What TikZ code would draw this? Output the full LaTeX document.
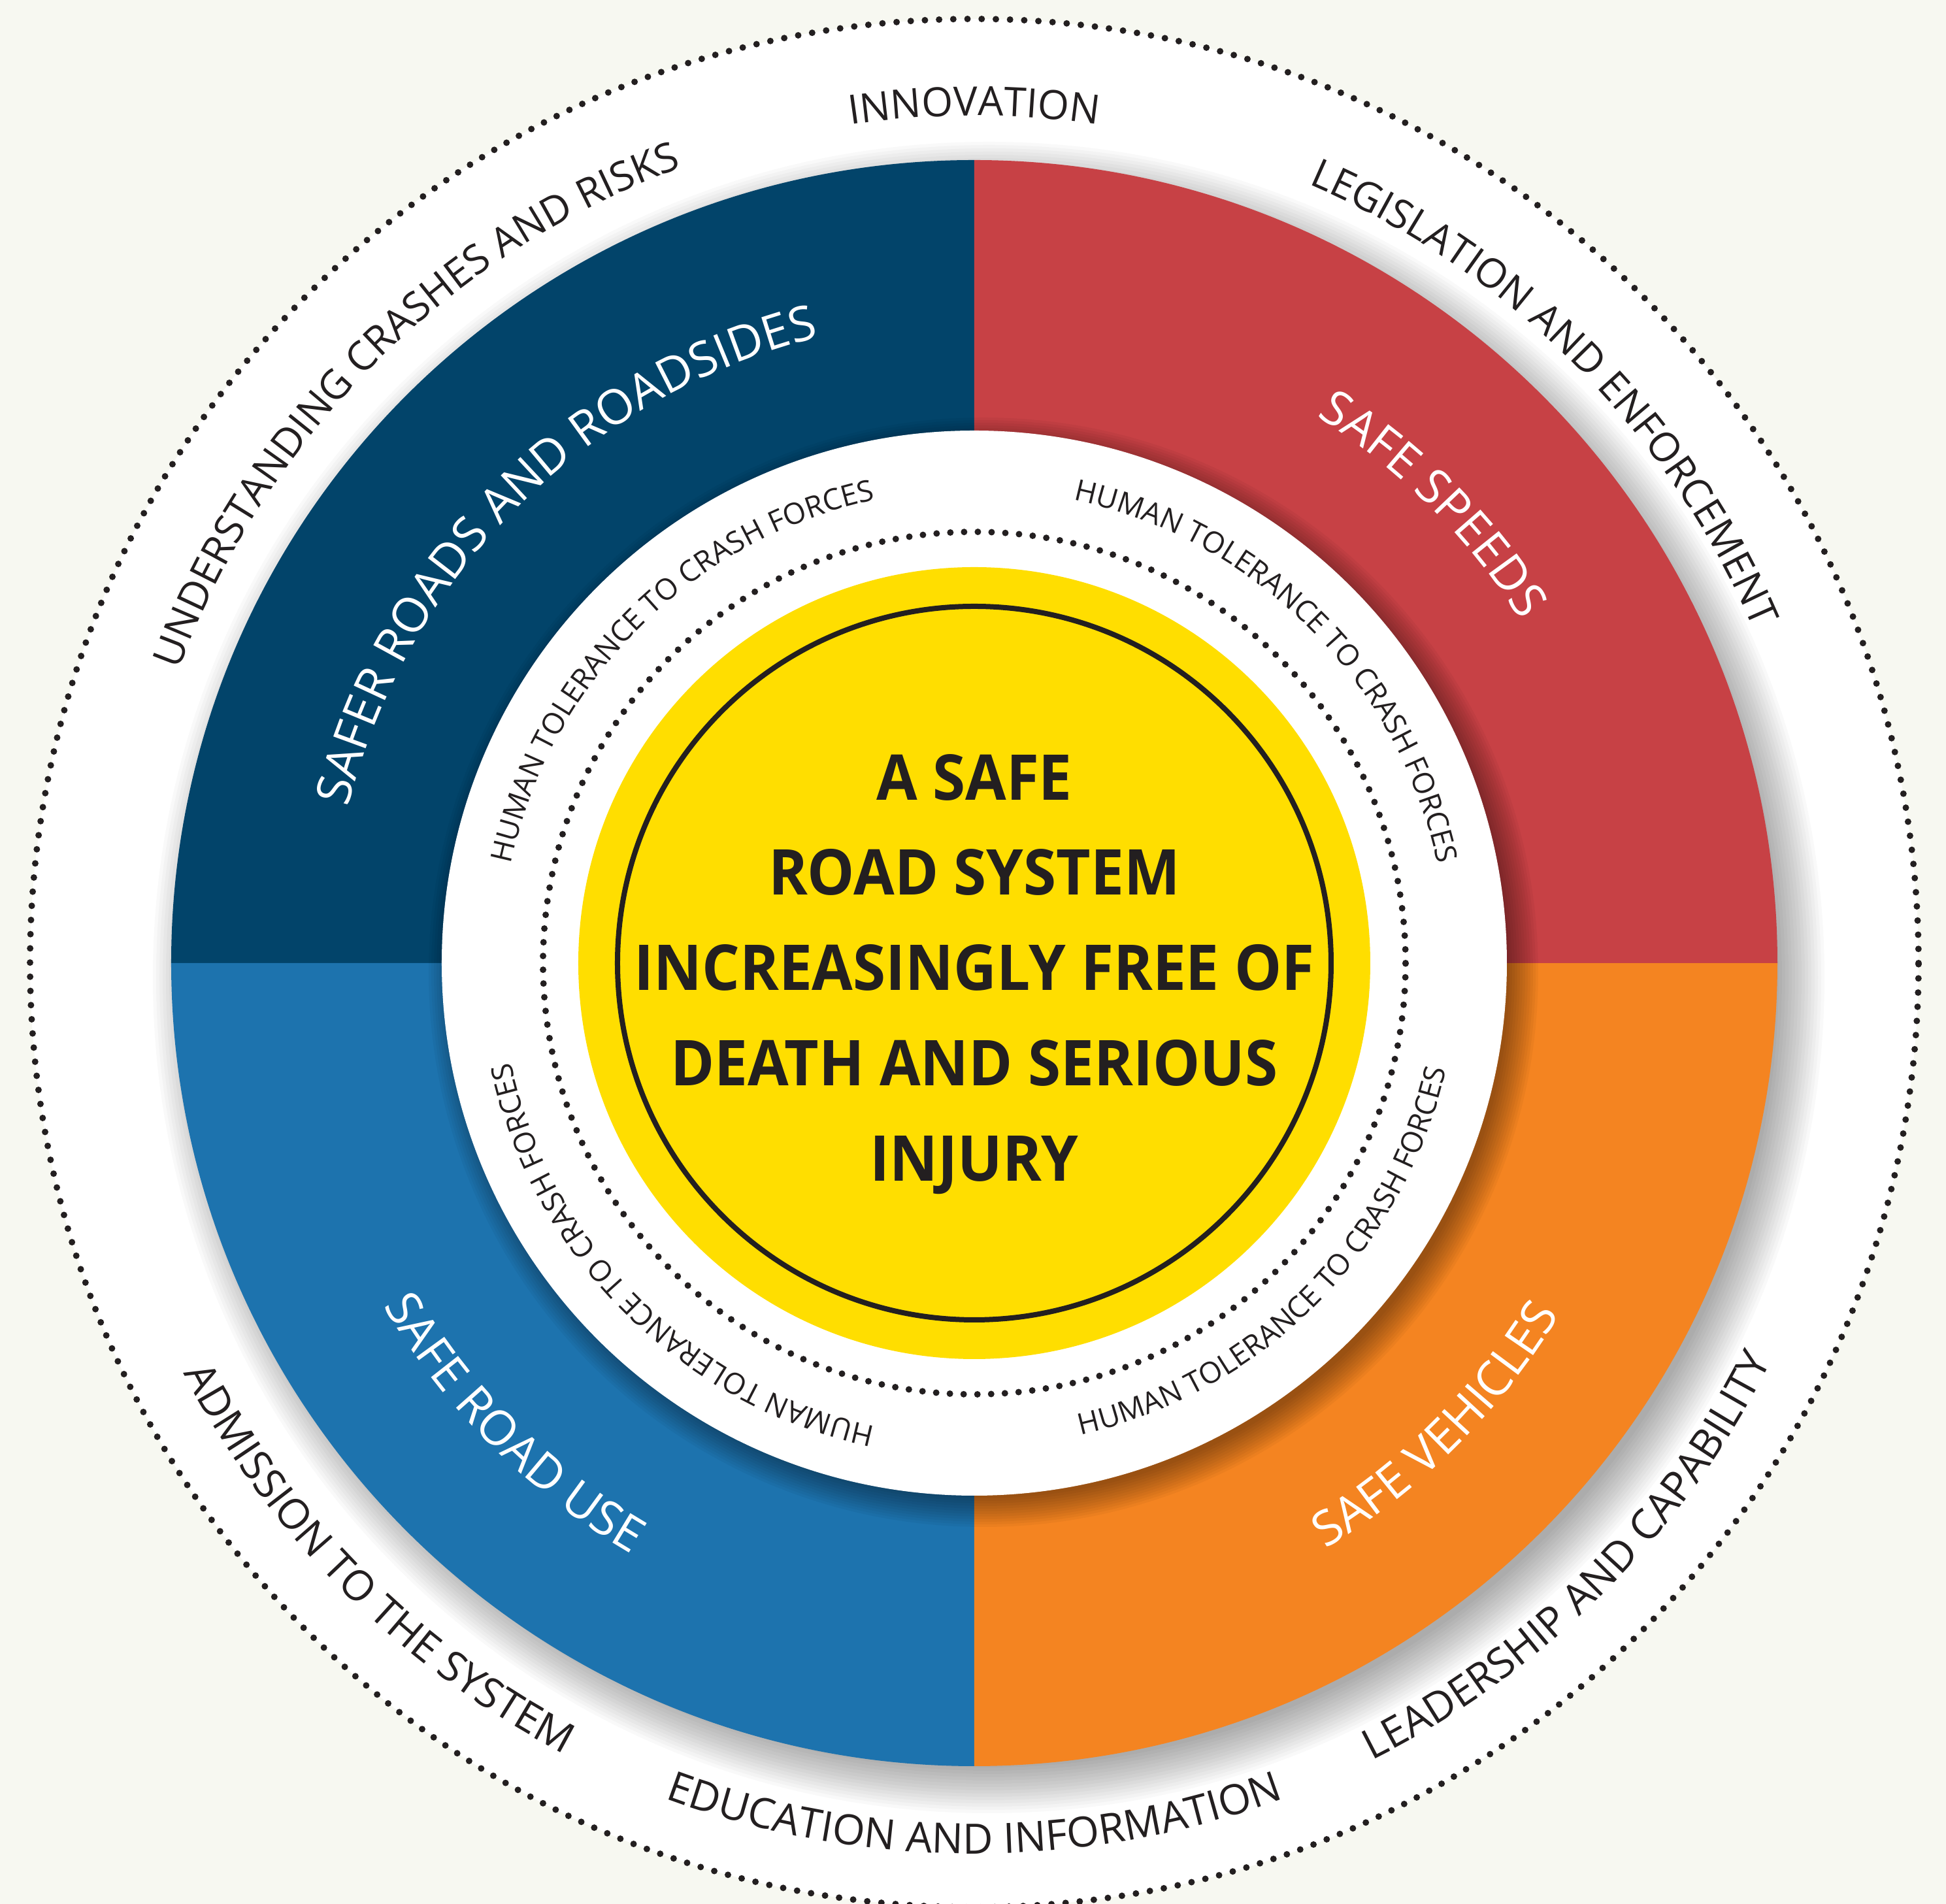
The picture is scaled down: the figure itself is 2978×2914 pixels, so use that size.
\documentclass[tikz,border=0pt]{standalone}
\usepackage{fontspec}
\setmainfont{Open Sans}
\newfontfamily\goalfont[FakeStretch=0.94]{Open Sans}
\usetikzlibrary{decorations.text}

\definecolor{paper}{HTML}{F7F8F1}
\definecolor{ink}{HTML}{231F20}
\definecolor{roadsblue}{HTML}{02446A}
\definecolor{speedsred}{HTML}{C74145}
\definecolor{vehiclesorange}{HTML}{F48421}
\definecolor{useblue}{HTML}{1D73AE}
\definecolor{goalyellow}{HTML}{FFDE00}

\newcommand{\outerfont}{\fontsize{17.6}{20}\selectfont\color{ink}}
\newcommand{\lowerfont}{\fontsize{18.2}{20}\selectfont\color{ink}}
\newcommand{\pillarfont}{\fontsize{21}{23}\selectfont\color{white}}
\newcommand{\tolfont}{\fontsize{12.8}{14}\selectfont\color{ink}}

% text round the centre: radius, middle angle, format, text
\newcommand{\cwtext}[4]{%
  \pgfmathsetmacro{\angA}{#2+90}\pgfmathsetmacro{\angB}{#2-90}%
  \path[decorate, decoration={text along path, text align=center, text={|#3|#4}}]
    (\angA:#1) arc[start angle=\angA, end angle=\angB, radius=#1];}
\newcommand{\ccwtext}[4]{%
  \pgfmathsetmacro{\angA}{#2-90}\pgfmathsetmacro{\angB}{#2+90}%
  \path[decorate, decoration={text along path, text align=center, text={|#3|#4}}]
    (\angA:#1) arc[start angle=\angA, end angle=\angB, radius=#1];}

\tikzset{
  dots/.style={ink, line width=1mm, line cap=round}
}

\begin{document}
\begin{tikzpicture}[x=0.1mm, y=0.1mm]
  \fill[paper] (-1491,-1440) rectangle (1487,1474);
  \useasboundingbox (-1491,-1440) rectangle (1487,1474);
  \fill[white] (0,0) circle (1445);
  \draw[dots, dash pattern=on 0mm off 2.172mm] (0,0) circle (1445);
  % soft shadow under the ring
  \foreach \k in {0,...,14}
    \fill[black, opacity=0.025] (22,-22) circle (1209+5*\k);
  \fill[roadsblue] (0,0) -- (90:1229) arc[start angle=90, end angle=180, radius=1229] -- cycle;
  \fill[useblue] (0,0) -- (180:1229) arc[start angle=180, end angle=270, radius=1229] -- cycle;
  \fill[vehiclesorange] (0,0) -- (270:1229) arc[start angle=270, end angle=360, radius=1229] -- cycle;
  \fill[speedsred] (0,0) -- (0:1229) arc[start angle=0, end angle=90, radius=1229] -- cycle;
  % shadow of the inner disc
  \foreach \k in {0,...,11}
    \fill[black, opacity=0.035] (14,-14) circle (805+4*\k);
  \fill[white] (0,0) circle (815);
  \draw[dots, dash pattern=on 0mm off 2.105mm] (0,0) circle (660);
  \fill[goalyellow] (0,0) circle (606);
  \draw[ink, line width=0.8mm] (0,0) circle (546);
  \node[align=center, text=ink, font={\goalfont\bfseries\fontsize{27.5}{41.5}\selectfont}] (goal) at (0,-17)
    {A SAFE\\ROAD SYSTEM\\INCREASINGLY FREE OF\\DEATH AND SERIOUS\\INJURY};

  \cwtext{1297}{90}{\outerfont}{INNOVATION}
  \cwtext{1297}{135}{\outerfont}{UNDERSTANDING CRASHES AND RISKS}
  \cwtext{1297}{45}{\outerfont}{LEGISLATION AND ENFORCEMENT}
  \ccwtext{1363}{-45}{\lowerfont}{LEADERSHIP AND CAPABILITY}
  \ccwtext{1363}{-90}{\lowerfont}{EDUCATION AND INFORMATION}
  \ccwtext{1363}{225}{\lowerfont}{ADMISSION TO THE SYSTEM}

  \cwtext{987}{135}{\pillarfont}{SAFER ROADS AND ROADSIDES}
  \cwtext{987}{45}{\pillarfont}{SAFE SPEEDS}
  \ccwtext{1045}{-45}{\pillarfont}{SAFE VEHICLES}
  \ccwtext{1045}{225}{\pillarfont}{SAFE ROAD USE}

  \cwtext{725}{135}{\tolfont}{HUMAN TOLERANCE TO CRASH FORCES}
  \cwtext{725}{45}{\tolfont}{HUMAN TOLERANCE TO CRASH FORCES}
  \ccwtext{740}{-45}{\tolfont}{HUMAN TOLERANCE TO CRASH FORCES}
  \cwtext{725}{225}{\tolfont}{HUMAN TOLERANCE TO CRASH FORCES}
\end{tikzpicture}
\end{document}
